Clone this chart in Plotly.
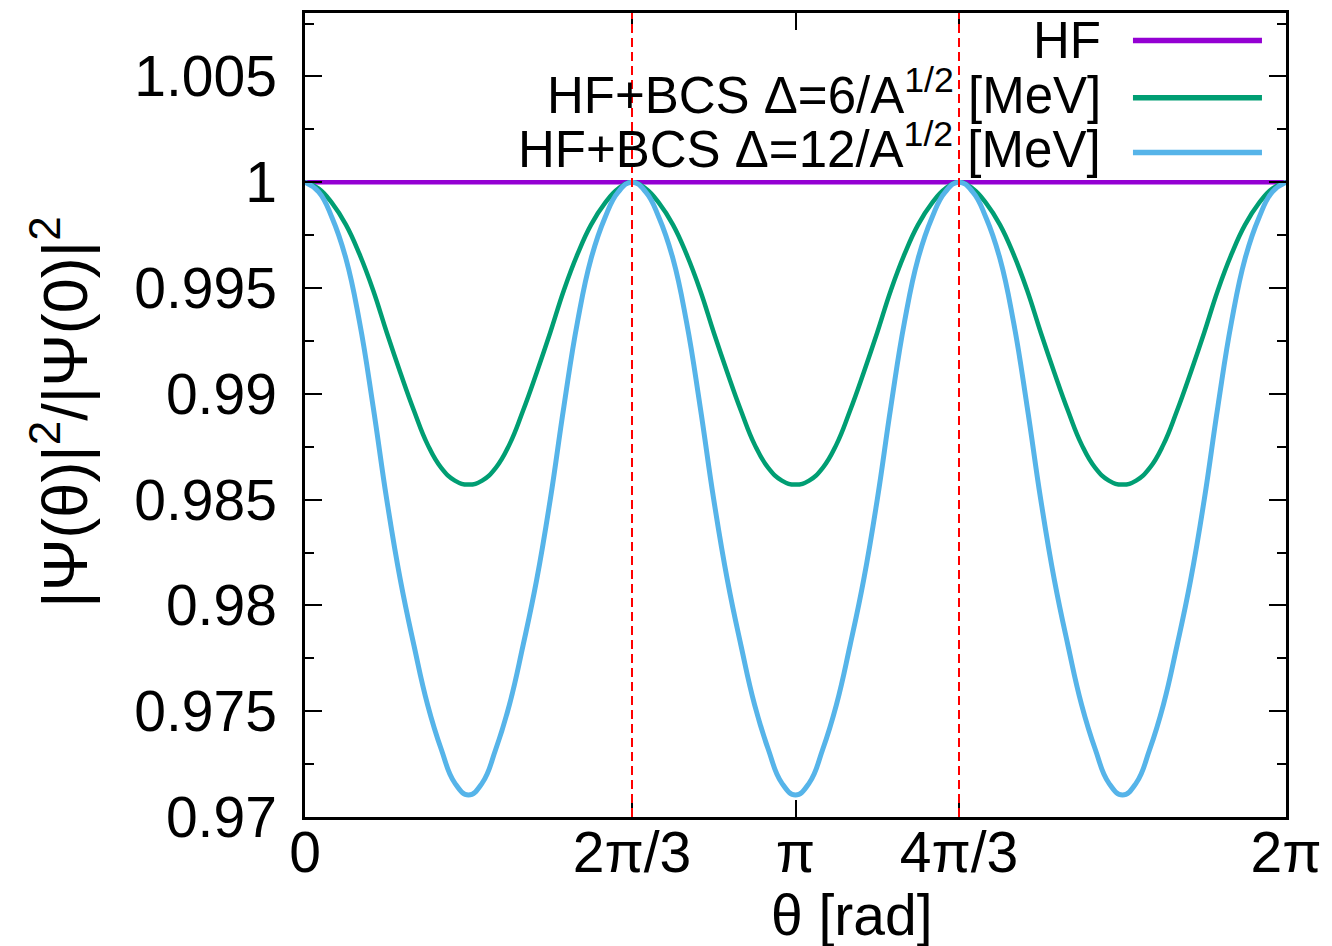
import numpy as np
import plotly.graph_objects as go

# sampling angles in degrees (5 degree steps over one full turn)
theta_deg = list(range(0, 361, 5))

# |Psi(theta)|^2 / |Psi(0)|^2 for the three calculations
hf = [1.0] * len(theta_deg)

bcs6 = [
    1.0, 0.9997, 0.9990, 0.9980, 0.9966, 0.9949, 0.9929, 0.9910, 0.9892, 0.9876, 0.9865, 0.9859, 0.98571,
    0.9859, 0.9865, 0.9876, 0.9892, 0.9910, 0.9929, 0.9949, 0.9966, 0.9980, 0.9990, 0.9997,
    1.0, 0.9997, 0.9990, 0.9980, 0.9966, 0.9949, 0.9929, 0.9910, 0.9892, 0.9876, 0.9865, 0.9859, 0.98571,
    0.9859, 0.9865, 0.9876, 0.9892, 0.9910, 0.9929, 0.9949, 0.9966, 0.9980, 0.9990, 0.9997,
    1.0, 0.9997, 0.9990, 0.9980, 0.9966, 0.9949, 0.9929, 0.9910, 0.9892, 0.9876, 0.9865, 0.9859, 0.98571,
    0.9859, 0.9865, 0.9876, 0.9892, 0.9910, 0.9929, 0.9949, 0.9966, 0.9980, 0.9990, 0.9997,
    1.0,
]

bcs12 = [
    1.0, 0.99955, 0.9983, 0.9964, 0.9934, 0.9894, 0.9850, 0.9812, 0.9781, 0.9753, 0.9732, 0.9716, 0.97104,
    0.9716, 0.9732, 0.9753, 0.9781, 0.9812, 0.9850, 0.9894, 0.9934, 0.9964, 0.9983, 0.99955,
    1.0, 0.99955, 0.9983, 0.9964, 0.9934, 0.9894, 0.9850, 0.9812, 0.9781, 0.9753, 0.9732, 0.9716, 0.97104,
    0.9716, 0.9732, 0.9753, 0.9781, 0.9812, 0.9850, 0.9894, 0.9934, 0.9964, 0.9983, 0.99955,
    1.0, 0.99955, 0.9983, 0.9964, 0.9934, 0.9894, 0.9850, 0.9812, 0.9781, 0.9753, 0.9732, 0.9716, 0.97104,
    0.9716, 0.9732, 0.9753, 0.9781, 0.9812, 0.9850, 0.9894, 0.9934, 0.9964, 0.9983, 0.99955,
    1.0,
]

series_names = [
    "HF",
    "HF+BCS Δ=6/A<sup>1/2</sup> [MeV]",
    "HF+BCS Δ=12/A<sup>1/2</sup> [MeV]",
]
series_colors = ["#9400D3", "#009E73", "#56B4E9"]

x_tick_vals = [0, 2 * np.pi / 3, np.pi, 4 * np.pi / 3, 2 * np.pi]
x_tick_text = ["0", "2π/3", "π", "4π/3", "2π"]
y_tick_vals = [0.97, 0.975, 0.98, 0.985, 0.99, 0.995, 1.0, 1.005]
y_tick_text = ["0.97", "0.975", "0.98", "0.985", "0.99", "0.995", "1", "1.005"]
y_minor_vals = [0.9725, 0.9775, 0.9825, 0.9875, 0.9925, 0.9975, 1.0025, 1.0075]
marker_angles = [2 * np.pi / 3, 4 * np.pi / 3]

theta = np.deg2rad(theta_deg)
FONT = "Liberation Sans, Arial, sans-serif"

fig = go.Figure()
for ys, name, col, w in zip([hf, bcs6, bcs12], series_names, series_colors, [4.5, 4.5, 5]):
    fig.add_trace(go.Scatter(
        x=theta, y=ys, mode="lines", name=name,
        line=dict(color=col, width=w, shape="spline", smoothing=1.3),
        showlegend=False,
    ))

# vertical dashed guides
for xv in marker_angles:
    fig.add_shape(type="line", x0=xv, x1=xv, y0=0, y1=1, xref="x", yref="paper",
                  line=dict(color="#FF0000", width=2, dash="9px,5px"), layer="above")

# legend: right-aligned labels with line samples to their right
legend_text_rows = [0.9658, 0.9021, 0.8340]
legend_line_rows = [0.9658, 0.8947, 0.8265]
for name, col, yt, yl in zip(series_names, series_colors, legend_text_rows, legend_line_rows):
    fig.add_annotation(x=0.8135, y=yt, xref="paper", yref="paper", text=name,
                       showarrow=False, xanchor="right", yanchor="middle",
                       font=dict(family=FONT, size=51, color="black"))
    fig.add_shape(type="line", x0=0.844, x1=0.9755, y0=yl, y1=yl, xref="paper", yref="paper",
                  line=dict(color=col, width=5.5))

# axis titles
fig.add_annotation(x=-0.2497, y=0.503, xref="paper", yref="paper",
                   text="|Ψ(θ)|<sup>2</sup>/|Ψ(0)|<sup>2</sup>", textangle=-90,
                   showarrow=False, xanchor="center", yanchor="middle",
                   font=dict(family=FONT, size=63, color="black"))
fig.add_annotation(x=0.5576, y=-0.122, xref="paper", yref="paper",
                   text="θ [rad]", showarrow=False, xanchor="center", yanchor="middle",
                   font=dict(family=FONT, size=57, color="black"))

axis_common = dict(
    showline=True, linecolor="black", linewidth=2.5, mirror="allticks",
    ticks="inside", ticklen=17, tickwidth=2, tickcolor="black",
    showgrid=False, zeroline=False,
    tickfont=dict(family=FONT, size=57, color="black"),
)

fig.update_xaxes(range=[0, 2 * np.pi], tickmode="array", tickvals=x_tick_vals,
                 ticktext=x_tick_text, ticklabelstandoff=-16, **axis_common)
fig.update_yaxes(range=[0.97, 1.008], tickmode="array", tickvals=y_tick_vals,
                 ticktext=y_tick_text, ticklabelstandoff=14,
                 minor=dict(tickmode="array", tickvals=y_minor_vals, ticks="inside",
                            ticklen=9, tickwidth=2, tickcolor="black"),
                 **axis_common)

fig.update_layout(
    width=1332, height=946,
    margin=dict(l=305, r=46, t=10, b=129),
    plot_bgcolor="white", paper_bgcolor="white",
    showlegend=False,
)

fig.write_html("out.html")
